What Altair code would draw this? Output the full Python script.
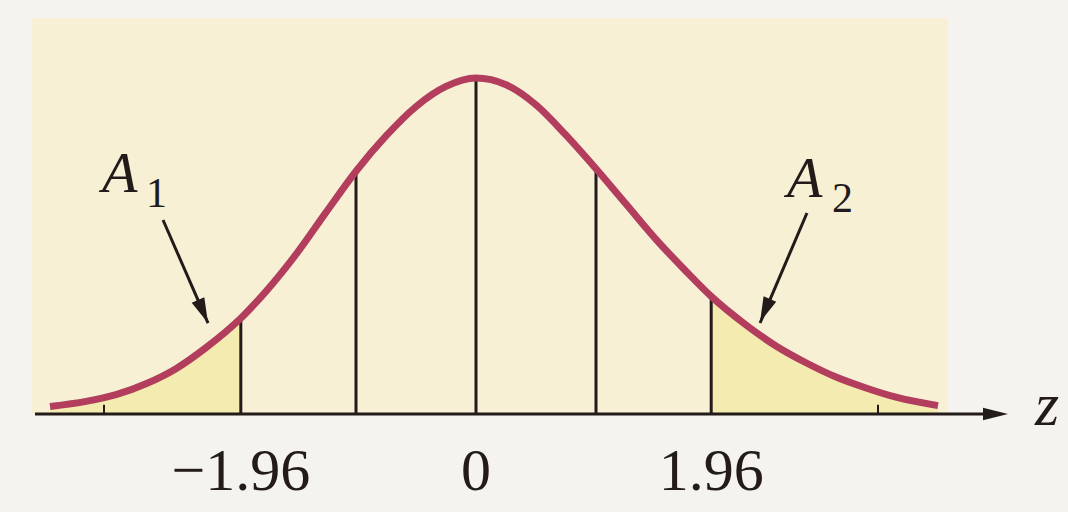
import altair as alt
import pandas as pd

# Normal-curve outline, read at these z positions
curve_z = [-3.55, -3.25, -3.0, -2.75, -2.5, -2.25, -1.96, -1.75, -1.5, -1.25, -1.0, -0.75, -0.5, -0.25, 0.0,
           0.25, 0.5, 0.75, 1.0, 1.25, 1.5, 1.75, 1.96, 2.25, 2.5, 2.75, 3.0, 3.25, 3.5, 3.85]
curve_h = [0.009, 0.015, 0.023, 0.036, 0.054, 0.079, 0.114, 0.146, 0.190, 0.240, 0.289, 0.331, 0.366, 0.390, 0.400,
           0.392, 0.368, 0.332, 0.292, 0.250, 0.208, 0.170, 0.140, 0.106, 0.081, 0.061, 0.044, 0.031, 0.020, 0.010]

# Vertical guides under the curve
guide_z = [-1.96, -1.0, 0.0, 1.0, 1.96]
guide_h = [0.114, 0.289, 0.400, 0.292, 0.140]

# Axis labels
tick_values = [-1.96, 0.0, 1.96]
tick_labels = ["\u22121.96", "0", "1.96"]

# Small ticks on the axis near the curve ends
minor_tick_z = [-3.1, 3.35]

# Tail-area labels and their arrows
area_names = ["A", "A"]
area_subs = ["1", "2"]
area_label_z = [-3.117, 2.592]
area_label_y = [0.2643, 0.2583]
area_sub_z = [-2.75, 2.967]
area_sub_y = [0.2464, 0.2405]
arrow_from_z = [-2.608, 2.758]
arrow_from_y = [0.2310, 0.2393]
arrow_to_z = [-2.233, 2.367]
arrow_to_y = [0.1083, 0.1083]
head_z = [-2.275, 2.408]
head_y = [0.1220, 0.1232]
head_angle = [336.4, 23.3]

X_DOMAIN = [-3.9667, 4.9333]
Y_DOMAIN = [-0.1143, 0.481]

PANEL = "#F7F0D5"
TAIL = "#F3EBB0"
CURVE = "#B23D5D"
INK = "#231a1a"
SERIF = "Liberation Serif"

curve = pd.DataFrame({"z": curve_z, "h": curve_h})
curve["base"] = 0.0
left_tail = curve[curve.z <= -1.96]
right_tail = curve[curve.z >= 1.96]
guides = pd.DataFrame({"z": guide_z, "h": guide_h, "base": 0.0})
ticks = pd.DataFrame({"z": tick_values, "label": tick_labels, "y": -0.0905})
minor = pd.DataFrame({"z": minor_tick_z, "base": 0.0, "top": 0.011})
names = pd.DataFrame({"z": area_label_z, "y": area_label_y, "t": area_names})
subs = pd.DataFrame({"z": area_sub_z, "y": area_sub_y, "t": area_subs})
shafts = pd.DataFrame({"z": arrow_from_z, "y": arrow_from_y, "z2": arrow_to_z, "y2": arrow_to_y})
heads = pd.DataFrame({"z": head_z, "y": head_y, "a": head_angle})

xs = alt.Scale(domain=X_DOMAIN, nice=False, zero=False)
ys = alt.Scale(domain=Y_DOMAIN, nice=False, zero=False)


def X(field="z"):
    return alt.X(f"{field}:Q", scale=xs, axis=None)


def Y(field):
    return alt.Y(f"{field}:Q", scale=ys, axis=None)


panel = alt.Chart(pd.DataFrame({"x0": [-3.70], "x1": [3.93], "y0": [0.0], "y1": [0.4714]})).mark_rect(
    color=PANEL
).encode(x=X("x0"), x2="x1:Q", y=Y("y0"), y2="y1:Q")

left_area = alt.Chart(left_tail).mark_area(color=TAIL, interpolate="monotone").encode(
    x=X(), y=Y("h"), y2="base:Q"
)
right_area = alt.Chart(right_tail).mark_area(color=TAIL, interpolate="monotone").encode(
    x=X(), y=Y("h"), y2="base:Q"
)

guide_rules = alt.Chart(guides).mark_rule(color=INK, strokeWidth=3).encode(
    x=X(), y=Y("base"), y2="h:Q"
)

axis_line = alt.Chart(pd.DataFrame({"a": [-3.675], "b": [4.33], "y": [0.0]})).mark_rule(
    color=INK, strokeWidth=3
).encode(x=X("a"), x2="b:Q", y=Y("y"))

axis_head = alt.Chart(pd.DataFrame({"z": [4.329], "y": [0.0]})).mark_point(
    shape="M 1 0 L -1 -0.5 L -1 0.5 Z", size=625, filled=True, color=INK, opacity=1, strokeWidth=0
).encode(x=X(), y=Y("y"))

minor_ticks = alt.Chart(minor).mark_rule(color=INK, strokeWidth=2).encode(
    x=X(), y=Y("base"), y2="top:Q"
)

curve_line = alt.Chart(curve).mark_line(
    color=CURVE, strokeWidth=7, interpolate="monotone", strokeCap="butt"
).encode(x=X(), y=Y("h"))

tick_text = alt.Chart(ticks).mark_text(
    font=SERIF, fontSize=60, color=INK, align="center", baseline="alphabetic"
).encode(x=X(), y=Y("y"), text="label:N")

z_text = alt.Chart(pd.DataFrame({"z": [4.758], "y": [-0.0131], "t": ["z"]})).mark_text(
    font=SERIF, fontSize=62, fontStyle="italic", color=INK, align="center", baseline="alphabetic"
).encode(x=X(), y=Y("y"), text="t:N")

name_text = alt.Chart(names).mark_text(
    font=SERIF, fontSize=58, fontStyle="italic", color=INK, align="left", baseline="alphabetic"
).encode(x=X(), y=Y("y"), text="t:N")

sub_text = alt.Chart(subs).mark_text(
    font=SERIF, fontSize=42, color=INK, align="left", baseline="alphabetic"
).encode(x=X(), y=Y("y"), text="t:N")

arrow_shafts = alt.Chart(shafts).mark_rule(color=INK, strokeWidth=3).encode(
    x=X(), y=Y("y"), x2="z2:Q", y2="y2:Q"
)

arrow_heads = alt.Chart(heads).mark_point(
    shape="M 0 1 L -0.55 -1 L 0.55 -1 Z", size=625, filled=True, color=INK, opacity=1, strokeWidth=0
).encode(x=X(), y=Y("y"), angle=alt.Angle("a:Q", scale=None))

chart = alt.layer(
    panel, left_area, right_area, guide_rules, axis_line, minor_ticks, curve_line, axis_head,
    arrow_shafts, arrow_heads, tick_text, z_text, name_text, sub_text
).properties(
    width=1068, height=500,
    autosize=alt.AutoSizeParams(type="none"),
    padding={"left": 0, "right": 0, "top": 10, "bottom": 2},
    background="#F4F3EF",
).configure_view(stroke=None)

chart.save("out.html", embed_options={"renderer": "svg", "actions": False})
